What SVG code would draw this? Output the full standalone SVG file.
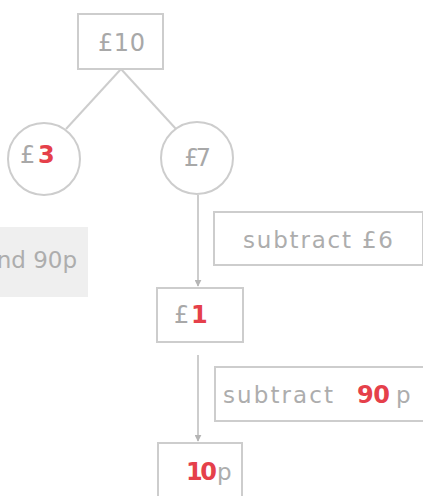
<svg xmlns="http://www.w3.org/2000/svg" width="423" height="496" viewBox="0 0 423 496">
<style>
.box{fill:#fff;stroke:#cdcdcd;stroke-width:2}
.ln{stroke:#cdcdcd;stroke-width:2;fill:none}
.t{font-family:"DejaVu Sans",sans-serif;fill:#a8a8a8;font-size:24px}
.s{font-family:"DejaVu Sans",sans-serif;fill:#adadad;font-size:23px}
.r{font-family:"DejaVu Sans",sans-serif;fill:#e5404a;font-weight:bold;font-size:24px}
</style>
<defs>
<marker id="ah" viewBox="0 0 10 10" refX="9" refY="5" markerWidth="3.5" markerHeight="3.5" orient="auto">
<path d="M0,0 L10,5 L0,10 z" fill="#b5b5b5"/>
</marker>
</defs>
<rect width="423" height="496" fill="#fff"/>
<g id="connectors">
<line class="ln" x1="121" y1="69" x2="66" y2="129"/>
<line class="ln" x1="121" y1="69" x2="176" y2="129"/>
<line class="ln" x1="198" y1="195" x2="198" y2="286" marker-end="url(#ah)"/>
<line class="ln" x1="198" y1="355" x2="198" y2="441" marker-end="url(#ah)"/>
</g>
<g id="n-10">
<rect class="box" x="78" y="14" width="85" height="55"/>
<text class="t" x="98" y="51" textLength="47">£10</text>
</g>
<g id="n-3">
<circle class="box" cx="44" cy="159" r="36"/>
<text class="t" x="20" y="163">£</text>
<text class="r" x="38" y="163">3</text>
</g>
<g id="n-7">
<circle class="box" cx="197" cy="158" r="36"/>
<text class="t" x="184" y="166" textLength="27">£7</text>
</g>
<g id="n-note">
<rect x="0" y="227" width="88" height="70" fill="#efefef"/>
<text class="s" x="77" y="268" text-anchor="end" font-size="22">and 90p</text>
</g>
<g id="n-sub6">
<rect class="box" x="214" y="212" width="209" height="53"/>
<text class="s" x="243" y="248" textLength="150">subtract £6</text>
</g>
<g id="n-1">
<rect class="box" x="157" y="288" width="86" height="54"/>
<text class="t" x="174" y="323">£</text>
<text class="r" x="191" y="323">1</text>
</g>
<g id="n-sub90">
<rect class="box" x="215" y="367" width="210" height="54"/>
<text class="s" x="223" y="403" textLength="110">subtract</text>
<text class="r" x="357" y="403" textLength="33">90</text>
<text class="s" x="396" y="403" font-size="24">p</text>
</g>
<g id="n-10p">
<rect class="box" x="158" y="443" width="84" height="56"/>
<text class="r" x="186" y="480" textLength="31">10</text>
<text class="s" x="217" y="480" font-size="24">p</text>
</g>
</svg>
